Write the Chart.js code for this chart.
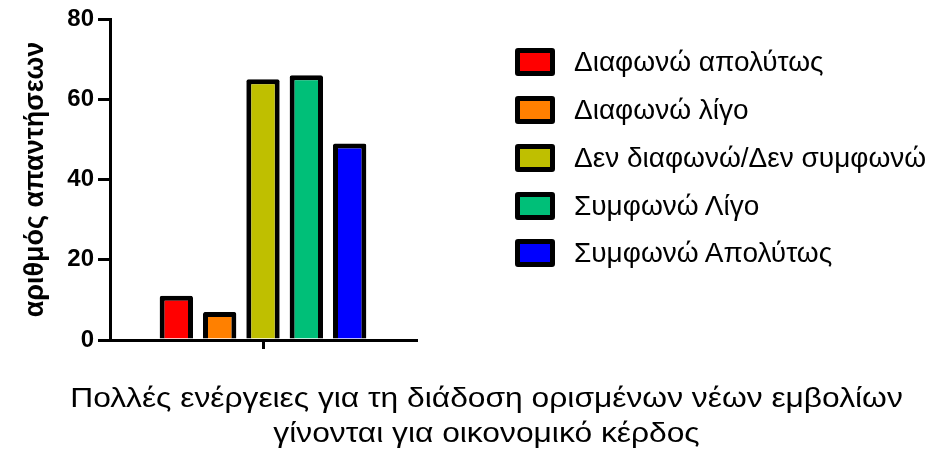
<!DOCTYPE html>
<html lang="el">
<head>
<meta charset="utf-8">
<title>Εμβόλια και οικονομικό κέρδος</title>
<script src="https://cdn.jsdelivr.net/npm/chart.js@4.4.1/dist/chart.umd.min.js"></script>
<style>
  html, body { margin: 0; padding: 0; background: #fff; }
  #wrap { position: relative; width: 929px; height: 453px; overflow: hidden; font-family: 'Liberation Sans', Arial, sans-serif; }
  #chart { position: absolute; left: 0; top: 0; }
  #legend { position: absolute; left: 515px; top: 38.6px; margin: 0; padding: 0; list-style: none; }
  #legend li { display: flex; align-items: center; height: 47.75px; font-size: 28px; color: #000; white-space: nowrap; }
  #legend .box { box-sizing: border-box; width: 40px; height: 28px; border: 5px solid #000; border-radius: 3px; margin-right: 19px; }
  #caption { position: absolute; left: 46px; width: 881px; top: 379.6px; text-align: center; font-size: 27.5px; line-height: 35px; color: #000; }
  /* the statement is drawn horizontally stretched in the original */
  #caption div { white-space: nowrap; transform: scaleX(1.155); transform-origin: center; }
</style>
</head>
<body>
<div id="wrap">
  <canvas id="chart" width="929" height="453"></canvas>
  <ul id="legend"></ul>
  <div id="caption"></div>
</div>
<script>
// answer options (one bar each) and number of answers
const categories = ['Διαφωνώ απολύτως', 'Διαφωνώ λίγο', 'Δεν διαφωνώ/Δεν συμφωνώ', 'Συμφωνώ Λίγο', 'Συμφωνώ Απολύτως'];
const responses = [11, 7, 65, 66, 49];
const barColors = ['#ff0000', '#ff8000', '#bfbf00', '#00bf78', '#0000ff'];

// axis texts
const yTitle = 'αριθμός απαντήσεων';
const statementLines = ['Πολλές ενέργειες για τη διάδοση ορισμένων νέων εμβολίων', 'γίνονται για οικονομικό κέρδος'];
const yTicks = [0, 20, 40, 60, 80];

const fontFamily = "'Liberation Sans', Arial, sans-serif";

// Legend (HTML, built from the same arrays)
const legendEl = document.getElementById('legend');
categories.forEach((name, i) => {
    const li = document.createElement('li');
    const box = document.createElement('span');
    box.className = 'box';
    box.style.background = barColors[i];
    li.appendChild(box);
    li.appendChild(document.createTextNode(name));
    legendEl.appendChild(li);
});

// Statement under the chart
const captionEl = document.getElementById('caption');
statementLines.forEach(line => {
    const div = document.createElement('div');
    div.textContent = line;
    captionEl.appendChild(div);
});

const datasets = categories.map((name, i) => ({
    label: name,
    data: [responses[i]],
    backgroundColor: barColors[i],
    borderColor: '#000',
    borderWidth: 5,
    borderRadius: 2,
    borderSkipped: 'start',
    barPercentage: 0.77,
    categoryPercentage: 0.708
}));

new Chart(document.getElementById('chart'), {
    type: 'bar',
    data: {
        labels: [statementLines.join(' ')],
        datasets: datasets
    },
    options: {
        responsive: false,
        animation: false,
        layout: {
            padding: { top: 19, right: 513, bottom: 93, left: 0 }
        },
        plugins: {
            legend: { display: false },
            tooltip: { enabled: false }
        },
        scales: {
            x: {
                offset: true,
                grid: {
                    display: true,
                    offset: false,
                    drawOnChartArea: false,
                    drawTicks: true,
                    tickLength: 9,
                    lineWidth: 3,
                    color: '#000'
                },
                border: { display: true, width: 3, color: '#000' },
                ticks: { display: false },
                afterFit: (scale) => { scale.height = 20; }
            },
            y: {
                min: yTicks[0],
                max: yTicks[yTicks.length - 1],
                afterBuildTicks: (scale) => {
                    scale.ticks = yTicks.map(v => ({ value: v }));
                },
                ticks: {
                    color: '#000',
                    padding: 4,
                    font: { family: fontFamily, size: 24, weight: 'bold' }
                },
                grid: {
                    drawOnChartArea: false,
                    tickLength: 12,
                    lineWidth: 3,
                    color: '#000'
                },
                border: { display: true, width: 3, color: '#000' },
                title: {
                    display: true,
                    text: yTitle,
                    color: '#000',
                    font: { family: fontFamily, size: 27, weight: 'bold' },
                    padding: { top: 19, bottom: 0 }
                },
                afterFit: (scale) => { scale.width = 110; }
            }
        }
    }
});
</script>
</body>
</html>
